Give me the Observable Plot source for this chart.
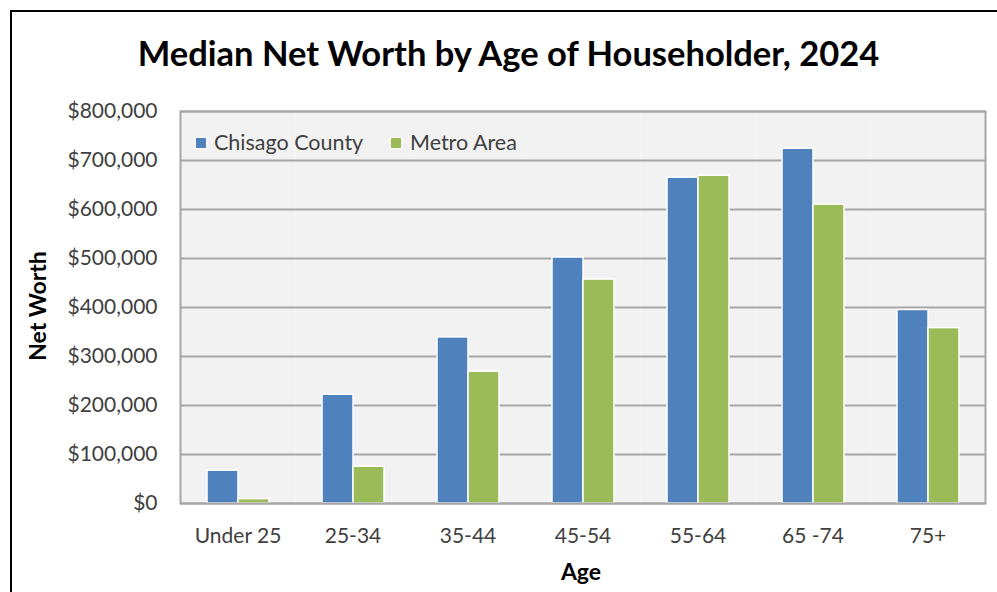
<!DOCTYPE html>
<html>
<head>
<meta charset="utf-8">
<script src="https://cdn.jsdelivr.net/npm/d3@7"></script>
<script src="https://cdn.jsdelivr.net/npm/@observablehq/plot@0.6"></script>
<style>
  html, body { margin: 0; padding: 0; background: #fff; }
  #wrap { position: relative; width: 997px; height: 592px; overflow: hidden; font-family: Lato, sans-serif; }
  #border { position: absolute; left: 10px; top: 10px; width: 2000px; height: 2000px; border-left: 2.5px solid #000; border-top: 2.5px solid #000; box-sizing: border-box; pointer-events: none; }
  #title { position: absolute; left: 20px; width: 977px; top: 36px; text-align: center; font-weight: 700; font-size: 34.5px; line-height: 34.5px; color: #000; white-space: nowrap; }
  .axtitle { position: absolute; font-weight: 700; font-size: 23px; line-height: 23px; color: #000; white-space: nowrap; }
  .leg { position: absolute; font-size: 21.5px; line-height: 21.5px; color: #404040; white-space: nowrap; }
  .sw { position: absolute; width: 10px; height: 10px; border: 1px solid #fff; }
  #chart { position: absolute; left: 0; top: 0; }
</style>
</head>
<body>
<div id="wrap">
  <div id="chart"></div>
  <div id="border"></div>
  <div id="title">Median Net Worth by Age of Householder, 2024</div>
  <div class="axtitle" id="ytitle" style="left:37px; top:306px; transform: translate(-50%,-50%) rotate(-90deg);">Net Worth</div>
  <div class="axtitle" id="xtitle" style="left:581px; top:560px; transform: translateX(-50%);">Age</div>
  <div id="legend"></div>
</div>
<script>
const ages = ["Under 25", "25-34", "35-44", "45-54", "55-64", "65 -74", "75+"];
const seriesNames = ["Chisago County", "Metro Area"];
const chisago = [67000, 222000, 339000, 502000, 665000, 724000, 395000];
const metro = [9000, 75000, 269000, 457000, 669000, 610000, 358000];
const yTicks = [0, 100000, 200000, 300000, 400000, 500000, 600000, 700000, 800000];
const colors = ["#4f81bd", "#9bbb59"];

const data = [];
ages.forEach((a, i) => {
  data.push({age: a, series: seriesNames[0], value: chisago[i]});
  data.push({age: a, series: seriesNames[1], value: metro[i]});
});

const chart = Plot.plot({
  width: 997,
  height: 592,
  marginLeft: 180,
  marginRight: 12,
  marginTop: 111,
  marginBottom: 89,
  style: {fontFamily: "Lato, sans-serif", fontSize: "21px", color: "#404040", background: "transparent"},
  fx: {domain: ages, padding: 0, axis: "bottom", label: null, tickSize: 0, tickPadding: 25},
  x: {domain: seriesNames, paddingInner: 0, paddingOuter: 0.797, axis: null},
  y: {domain: [0, 800000], ticks: yTicks, tickFormat: d3.format("$,"), tickSize: 0, tickPadding: 23, label: null},
  color: {domain: seriesNames, range: colors},
  marks: [
    Plot.frame({fill: "#f2f2f2"}),
    Plot.ruleY(yTicks, {stroke: "#a6a6a6", strokeWidth: 2}),
    Plot.barY(data, {fx: "age", x: "series", y: "value", fill: "series", stroke: "white", strokeWidth: 1.5}),
    Plot.frame({facet: "super", stroke: "#a6a6a6", strokeWidth: 2})
  ]
});
document.getElementById("chart").appendChild(chart);

// legend
const leg = document.getElementById("legend");
const legPos = [{sw: 195, tx: 214}, {sw: 390, tx: 410}];
seriesNames.forEach((s, i) => {
  const sw = document.createElement("div");
  sw.className = "sw";
  sw.style.left = legPos[i].sw + "px";
  sw.style.top = "137px";
  sw.style.background = colors[i];
  leg.appendChild(sw);
  const t = document.createElement("div");
  t.className = "leg";
  t.style.left = legPos[i].tx + "px";
  t.style.top = "132px";
  t.textContent = s;
  leg.appendChild(t);
});
</script>
</body>
</html>
